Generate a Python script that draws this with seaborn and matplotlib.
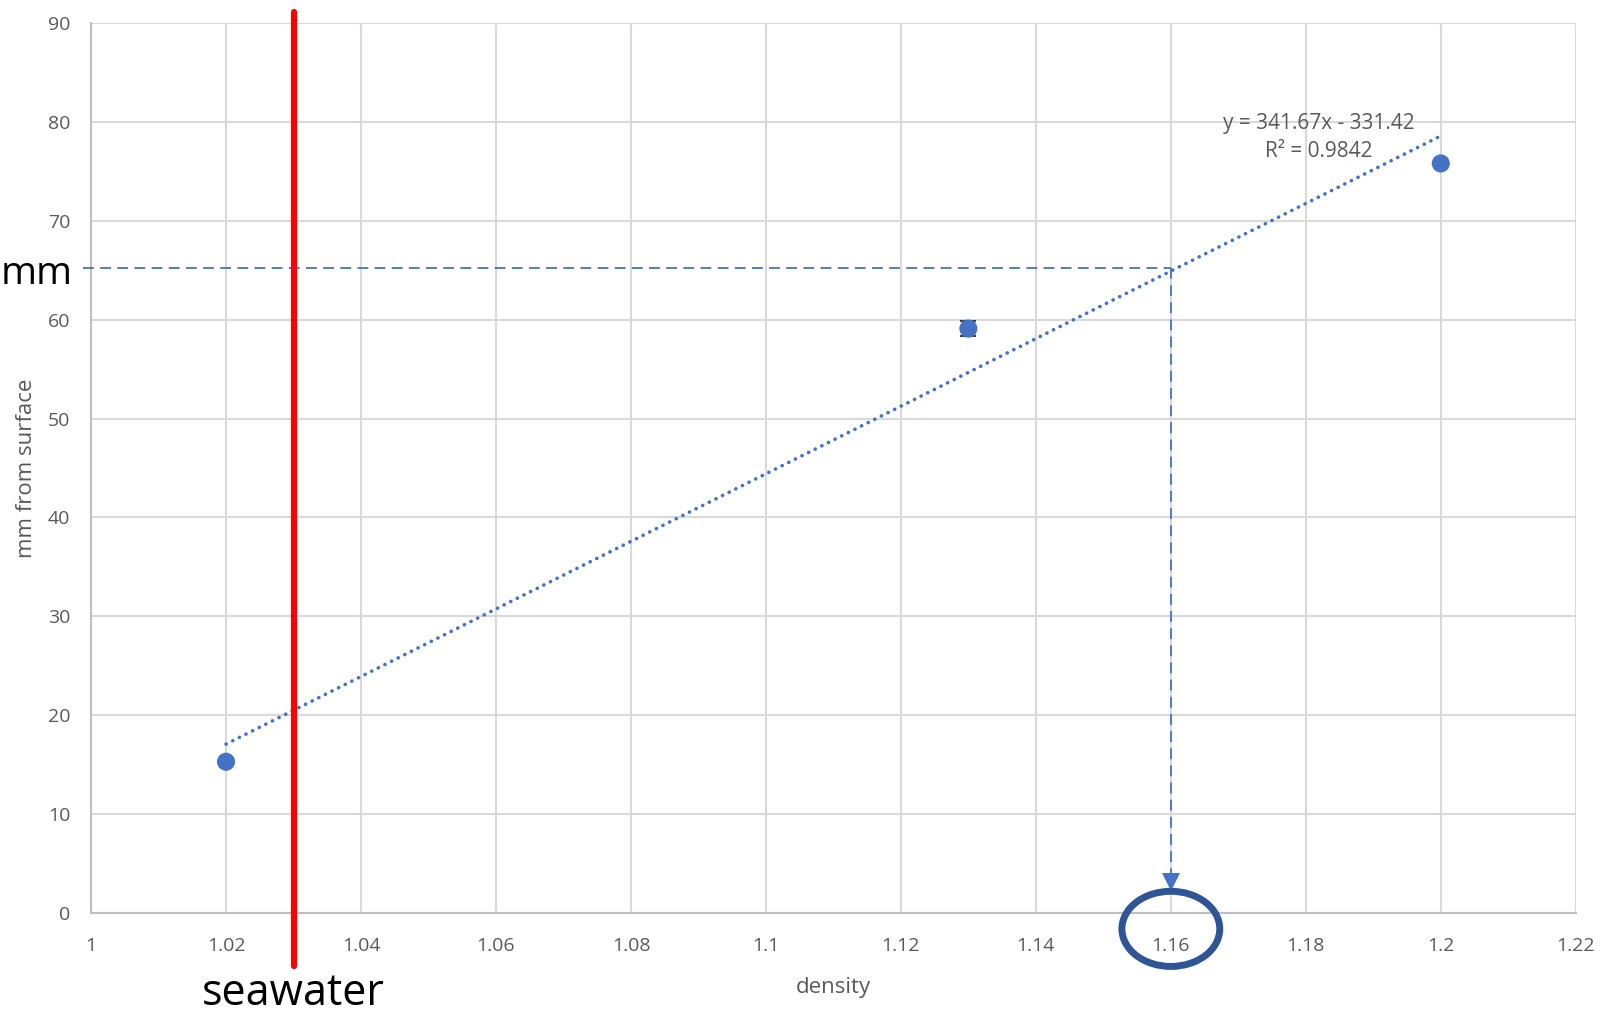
import numpy as np
import pandas as pd
import matplotlib
matplotlib.use("Agg")
import matplotlib.pyplot as plt
from matplotlib.patches import Ellipse
import seaborn as sns

# measured points
density = [1.02, 1.13, 1.2]
depth_mm = [15.3, 59.1, 75.8]
depth_err = [0.0, 0.8, 0.0]

# trendline reported in the chart
slope = 341.67
intercept = -331.42
r_squared = 0.9842

seawater_density = 1.03
read_depth = 65.2
read_density = 1.16

x_ticks = [1, 1.02, 1.04, 1.06, 1.08, 1.1, 1.12, 1.14, 1.16, 1.18, 1.2, 1.22]
y_ticks = [0, 10, 20, 30, 40, 50, 60, 70, 80, 90]

blue = "#4472C4"
grey_txt = "#595959"

sns.set_theme(style="whitegrid")
plt.rcParams["font.family"] = ["Open Sans", "DejaVu Sans"]

fig = plt.figure(figsize=(16.03, 10.18), dpi=100)
ax = fig.add_axes([0.0568, 0.1031, 0.9262, 0.8743])
ax.set_facecolor("white")

df = pd.DataFrame({"density": density, "mm": depth_mm})

# trendline
tx = np.array([density[0], density[-1]])
ax.plot(tx, slope * tx + intercept, color=blue, lw=2.6,
        linestyle=(0, (0.05, 2.0)), dash_capstyle="round", zorder=3)

ax.errorbar(density, depth_mm, yerr=depth_err, fmt="none", ecolor="#404040",
            elinewidth=1.5, capsize=6, capthick=1.5, zorder=4)
sns.scatterplot(data=df, x="density", y="mm", ax=ax, color=blue, s=170,
                edgecolor="none", zorder=5)

# reading guides
ax.plot([0.9988, read_density], [read_depth, read_depth], color=blue, lw=1.3,
        linestyle=(0, (6, 3.5)), clip_on=False, zorder=3)
ax.plot([read_density, read_density], [read_depth, 3.8], color=blue, lw=1.3,
        linestyle=(0, (6, 3.5)), zorder=3)
ax.plot([read_density], [3.1], marker="v", color=blue, markersize=13,
        markeredgewidth=0, clip_on=False, zorder=4)

# seawater line
ax.axvline(seawater_density, ymin=-0.06, ymax=1.012, color="#FF0000", lw=4.5,
           clip_on=False, zorder=6)

ax.add_patch(Ellipse((read_density, -1.6), 0.0145, 7.6, fill=False,
                     edgecolor="#2F5597", lw=5, clip_on=False, zorder=6))

ax.set_xlim(1, 1.22)
ax.set_ylim(0, 90)
ax.set_xticks(x_ticks)
ax.set_xticklabels([f"{v:g}" for v in x_ticks])
ax.set_yticks(y_ticks)
ax.grid(True, color="#D9D9D9", lw=1.5)
ax.tick_params(axis="both", length=0, labelsize=14, labelcolor=grey_txt)
ax.tick_params(axis="x", pad=17)
ax.tick_params(axis="y", pad=15)
for side in ["top", "right"]:
    ax.spines[side].set_visible(False)
for side in ["left", "bottom"]:
    ax.spines[side].set_color("#BFBFBF")
    ax.spines[side].set_linewidth(1.5)

ax.set_xlabel("density", fontsize=16, color=grey_txt, labelpad=16)
ax.set_ylabel("mm from surface", fontsize=16, color=grey_txt, labelpad=8)

sign = "-" if intercept < 0 else "+"
ax.text(1.1819, 78.4, f"y = {slope:.2f}x {sign} {abs(intercept):.2f}\nR² = {r_squared}",
        ha="center", va="center", fontsize=15, color=grey_txt, linespacing=1.45)

fig.text(1 / 1603, 1 - 284 / 1018, "mm", ha="left", va="baseline",
         fontsize=28, color="black")
ax.text(seawater_density, -9.3, "seawater", ha="center", va="baseline",
        fontsize=31, color="black")

fig.savefig("out.png", dpi=100)
